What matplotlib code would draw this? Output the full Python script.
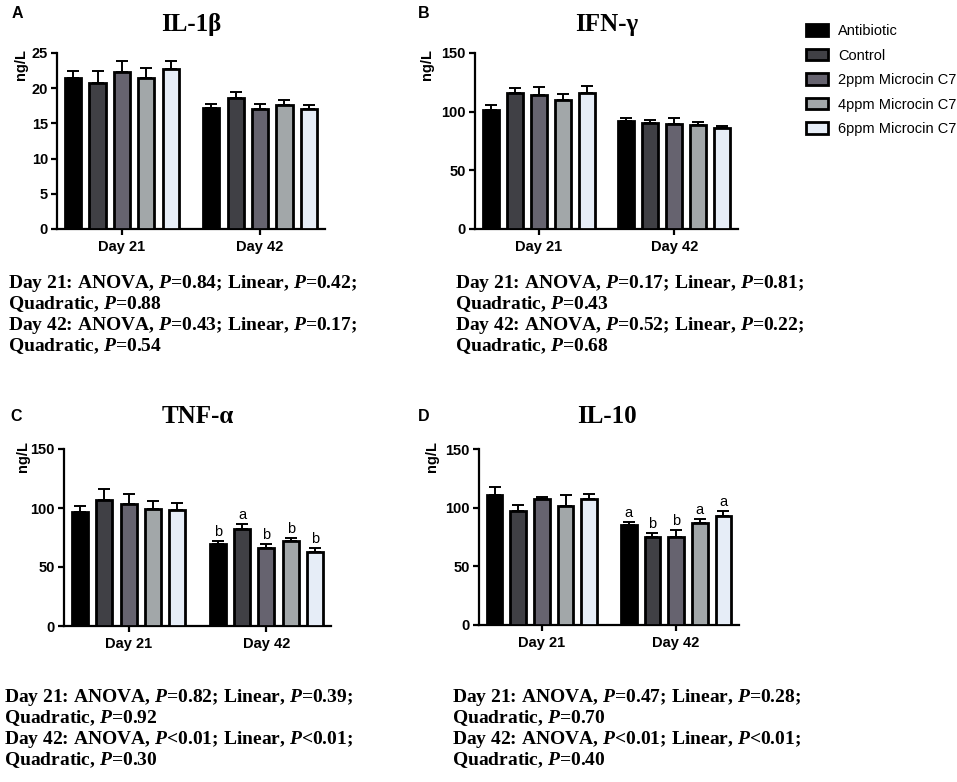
import matplotlib
matplotlib.use("Agg")
import matplotlib.pyplot as plt
import numpy as np

plt.rcParams['mathtext.fontset'] = 'custom'
plt.rcParams['mathtext.rm'] = 'Liberation Serif:bold'
plt.rcParams['mathtext.it'] = 'Liberation Serif:italic:bold'

# ---------------- data ----------------
groups = ["Antibiotic", "Control", "2ppm Microcin C7", "4ppm Microcin C7", "6ppm Microcin C7"]
days = ["Day 21", "Day 42"]
colors = ["#000000", "#404045", "#66636f", "#a2a7a9", "#e6edf7"]

il1b_d21 = [21.4, 20.7, 22.3, 21.5, 22.7]
il1b_d21_err = [1.0, 1.7, 1.5, 1.4, 1.2]
il1b_d42 = [17.2, 18.6, 17.1, 17.6, 17.0]
il1b_d42_err = [0.6, 0.9, 0.7, 0.7, 0.6]

ifn_d21 = [101.0, 116.0, 114.5, 109.7, 116.0]
ifn_d21_err = [4.7, 4.0, 6.5, 5.6, 6.0]
ifn_d42 = [91.8, 90.3, 89.5, 89.0, 86.0]
ifn_d42_err = [2.5, 2.9, 4.8, 2.0, 1.5]

tnf_d21 = [96.7, 106.6, 103.8, 99.5, 98.7]
tnf_d21_err = [5.3, 9.1, 8.2, 6.3, 5.9]
tnf_d42 = [69.7, 82.0, 66.0, 71.7, 63.0]
tnf_d42_err = [2.6, 4.2, 3.7, 3.2, 3.3]
tnf_d42_letters = ["b", "a", "b", "b", "b"]

il10_d21 = [110.4, 96.8, 107.0, 101.3, 107.3]
il10_d21_err = [7.6, 5.2, 2.0, 9.4, 4.3]
il10_d42 = [85.4, 75.1, 75.1, 86.8, 93.0]
il10_d42_err = [2.0, 2.9, 5.7, 3.4, 4.3]
il10_d42_letters = ["a", "b", "b", "a", "a"]

titles = ["IL-1\u03b2", "IFN-\u03b3", "TNF-\u03b1", "IL-10"]
panel_letters = ["A", "B", "C", "D"]
yticks_il1b = [0, 5, 10, 15, 20, 25]
yticks_other = [0, 50, 100, 150]

stats_text = [
    ["Day 21: ANOVA, $P$=0.84; Linear, $P$=0.42;", "Quadratic, $P$=0.88",
     "Day 42: ANOVA, $P$=0.43; Linear, $P$=0.17;", "Quadratic, $P$=0.54"],
    ["Day 21: ANOVA, $P$=0.17; Linear, $P$=0.81;", "Quadratic, $P$=0.43",
     "Day 42: ANOVA, $P$=0.52; Linear, $P$=0.22;", "Quadratic, $P$=0.68"],
    ["Day 21: ANOVA, $P$=0.82; Linear, $P$=0.39;", "Quadratic, $P$=0.92",
     "Day 42: ANOVA, $P$<0.01; Linear, $P$<0.01;", "Quadratic, $P$=0.30"],
    ["Day 21: ANOVA, $P$=0.47; Linear, $P$=0.28;", "Quadratic, $P$=0.70",
     "Day 42: ANOVA, $P$<0.01; Linear, $P$<0.01;", "Quadratic, $P$=0.40"],
]

panels = [
    (il1b_d21, il1b_d21_err, il1b_d42, il1b_d42_err, None, yticks_il1b),
    (ifn_d21, ifn_d21_err, ifn_d42, ifn_d42_err, None, yticks_other),
    (tnf_d21, tnf_d21_err, tnf_d42, tnf_d42_err, tnf_d42_letters, yticks_other),
    (il10_d21, il10_d21_err, il10_d42, il10_d42_err, il10_d42_letters, yticks_other),
]

# ---------------- layout ----------------
W, H = 957, 782
fig = plt.figure(figsize=(W / 100, H / 100), dpi=100)

def rect(l, t, r, b):
    return [l / W, 1 - b / H, (r - l) / W, (b - t) / H]

def fx(x):
    return x / W

def fy(y):
    return 1 - y / H

axes_px = [(57, 53, 325, 229), (475, 53, 738, 229), (64, 449, 331, 626), (479, 449, 739, 625)]
title_pos = [(191, 24), (607, 24), (198, 416), (607, 416)]
letter_pos = [(17, 13), (424, 13), (16, 416), (424, 416)]
ylabel_pos = [(21, 64), (427, 64), (23, 457), (432, 457)]
text_pos = [(8, 283), (455, 283), (4, 697), (452, 697)]

sans = "Liberation Sans"
serif = "Liberation Serif"

pitch = 0.1766
bw = 0.117
offsets = (np.arange(5) - 2) * pitch
bar_handles = None

for i, (d21, e21, d42, e42, letters, yt) in enumerate(panels):
    ax = fig.add_axes(rect(*axes_px[i]))
    handles = []
    for g in range(5):
        xs = [0 + offsets[g], 1 + offsets[g]]
        vals = [d21[g], d42[g]]
        errs = [e21[g], e42[g]]
        b = ax.bar(xs, vals, width=bw, color=colors[g], edgecolor="black",
                   linewidth=2.0, zorder=3, label=groups[g])
        handles.append(b)
        ax.errorbar(xs, vals, yerr=[[0, 0], errs], fmt="none", ecolor="black",
                    elinewidth=1.4, capsize=4, capthick=1.4, zorder=2)
        if letters is not None:
            ax.annotate(letters[g], (xs[1], vals[1] + errs[1]), xytext=(0, 1.5),
                        textcoords="offset points", ha="center", va="bottom",
                        fontsize=10.5, family=sans)
    if i == 1:
        bar_handles = handles
    ax.set_xlim(-0.47, 1.47)
    ax.set_ylim(yt[0], yt[-1])
    ax.set_yticks(yt)
    ax.set_xticks([0, 1])
    ax.set_xticklabels(days)
    for lab in ax.get_xticklabels() + ax.get_yticklabels():
        lab.set_fontfamily(sans)
        lab.set_fontweight("bold")
        lab.set_fontsize(10.5)
    ax.spines["top"].set_visible(False)
    ax.spines["right"].set_visible(False)
    ax.spines["left"].set_linewidth(1.6)
    ax.spines["bottom"].set_linewidth(1.6)
    ax.tick_params(axis="both", width=1.6, length=4.5, direction="out", pad=2)
    ax.tick_params(axis="x", pad=3.5)

    fig.text(fx(title_pos[i][0]), fy(title_pos[i][1]), titles[i], ha="center", va="center",
             fontsize=18, fontweight="bold", family=serif)
    fig.text(fx(letter_pos[i][0]), fy(letter_pos[i][1]), panel_letters[i], ha="center",
             va="center", fontsize=11.5, fontweight="bold", family=sans)
    fig.text(fx(ylabel_pos[i][0]), fy(ylabel_pos[i][1]), "ng/L", ha="center", va="center",
             rotation=90, fontsize=10.5, fontweight="bold", family=sans)
    for k, line in enumerate(stats_text[i]):
        fig.text(fx(text_pos[i][0]), fy(text_pos[i][1] + 21 * k), line, ha="left",
                 va="center", fontsize=14, fontweight="bold", family=serif)

fig.legend(handles=bar_handles, labels=groups, loc="upper left",
           bbox_to_anchor=(fx(806), fy(24)), frameon=False,
           prop={"family": sans, "size": 10.5}, handlelength=1.5, handleheight=0.8,
           handletextpad=0.7, labelspacing=0.72, borderpad=0, borderaxespad=0)

fig.savefig("out.png", dpi=100)
